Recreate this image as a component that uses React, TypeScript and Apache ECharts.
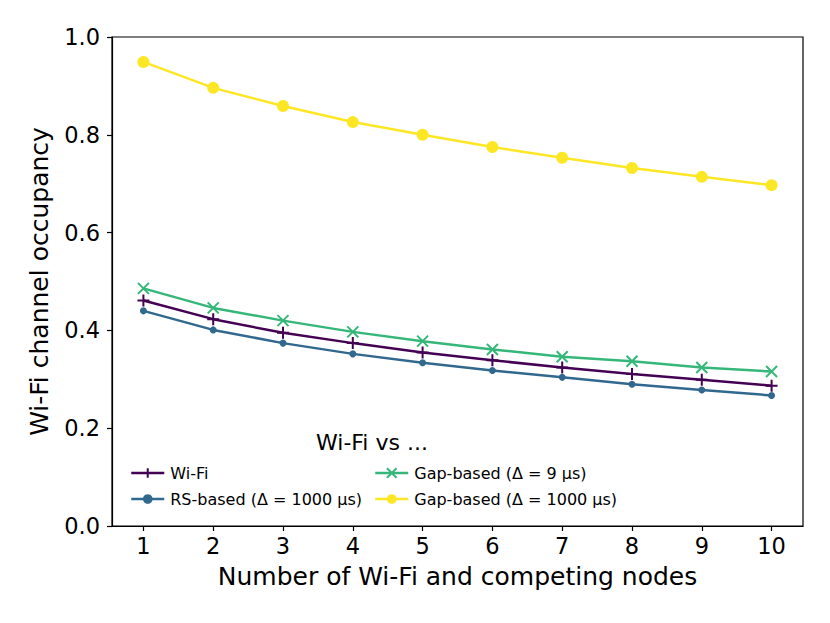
import React, { useEffect, useRef } from "react";
import * as echarts from "echarts";

const categories = [1, 2, 3, 4, 5, 6, 7, 8, 9, 10];
const wifi = [0.461, 0.423, 0.395, 0.374, 0.355, 0.339, 0.324, 0.311, 0.299, 0.287];
const rsBased = [0.44, 0.401, 0.374, 0.352, 0.334, 0.318, 0.304, 0.29, 0.278, 0.267];
const gap9 = [0.486, 0.446, 0.42, 0.397, 0.378, 0.361, 0.346, 0.337, 0.324, 0.316];
const gap1000 = [0.949, 0.896, 0.859, 0.826, 0.8, 0.775, 0.753, 0.732, 0.714, 0.697];
const yTicks = [0, 0.2, 0.4, 0.6, 0.8, 1.0];

const names = [
  "Wi-Fi",
  "RS-based (Δ = 1000 μs)",
  "Gap-based (Δ = 9 μs)",
  "Gap-based (Δ = 1000 μs)",
];
const colors = ["#440154", "#31688e", "#35b779", "#fde725"];

const FONT = "DejaVu Sans";
const PLUS = "path://M5,0L5,10M0,5L10,5";
const CROSS = "path://M0,0L10,10M10,0L0,10";

export default function App() {
  const ref = useRef<HTMLDivElement>(null);
  useEffect(() => {
    if (!ref.current) return;
    const chart = echarts.init(ref.current, null, { renderer: "svg" });
    const mk = (i: number, vals: number[], symbol: string, size: number, stroke: boolean) => ({
      name: names[i],
      type: "line",
      data: categories.map((c, k) => [c, vals[k]]),
      symbol,
      symbolSize: size,
      showSymbol: true,
      lineStyle: { color: colors[i], width: 2.5 },
      itemStyle: stroke
        ? { color: colors[i], borderColor: colors[i], borderWidth: 2 }
        : { color: colors[i], borderWidth: 0 },
      emphasis: { disabled: true },
      z: 2 + i,
    });
    const legendCommon = {
      orient: "vertical",
      itemWidth: 33,
      itemHeight: 12,
      itemGap: 10,
      lineStyle: { width: 2.5 },
      textStyle: { fontFamily: FONT, fontSize: 16, color: "#000", padding: [0, 0, 0, 1] },
      selectedMode: false,
    };
    chart.setOption({
      animation: false,
      backgroundColor: "#fff",
      title: {
        text: "Wi-Fi vs ...",
        left: 311,
        top: 426,
        textStyle: { fontFamily: FONT, fontSize: 22, fontWeight: "normal", color: "#000" },
      },
      legend: [
        { ...legendCommon, left: 125, top: 460, data: [names[0], names[1]] },
        { ...legendCommon, left: 369, top: 460, data: [names[2], names[3]] },
      ],
      grid: { left: 112, right: 27, top: 37, bottom: 97, show: true, borderColor: "#000", borderWidth: 1.2 },
      xAxis: {
        type: "value",
        min: 0.55,
        max: 10.45,
        interval: 1,
        name: "Number of Wi-Fi and competing nodes",
        nameLocation: "middle",
        nameGap: 38,
        nameTextStyle: { fontFamily: FONT, fontSize: 25, color: "#000" },
        axisLine: { show: true, lineStyle: { color: "#000", width: 1.2 } },
        axisTick: { show: true, inside: false, length: 5, lineStyle: { color: "#000", width: 1.2 }, customValues: categories },
        axisLabel: { fontFamily: FONT, fontSize: 22.5, color: "#000", margin: 8, customValues: categories },
        splitLine: { show: false },
      },
      yAxis: {
        type: "value",
        min: 0,
        max: 1,
        interval: 0.2,
        name: "Wi-Fi channel occupancy",
        nameLocation: "middle",
        nameGap: 60,
        nameTextStyle: { fontFamily: FONT, fontSize: 25, color: "#000" },
        axisLine: { show: true, lineStyle: { color: "#000", width: 1.2 } },
        axisTick: { show: true, inside: false, length: 5, lineStyle: { color: "#000", width: 1.2 }, customValues: yTicks },
        axisLabel: {
          fontFamily: FONT,
          fontSize: 22.5,
          color: "#000",
          margin: 12,
          customValues: yTicks,
          formatter: (v: number) => v.toFixed(1),
        },
        splitLine: { show: false },
      },
      series: [
        mk(0, wifi, PLUS, 12, true),
        mk(1, rsBased, "circle", 7, false),
        mk(2, gap9, CROSS, 11, true),
        mk(3, gap1000, "circle", 12, false),
      ],
    });
    return () => chart.dispose();
  }, []);
  return <div ref={ref} style={{ position: "fixed", left: 0, top: 0, width: 830, height: 623 }} />;
}
